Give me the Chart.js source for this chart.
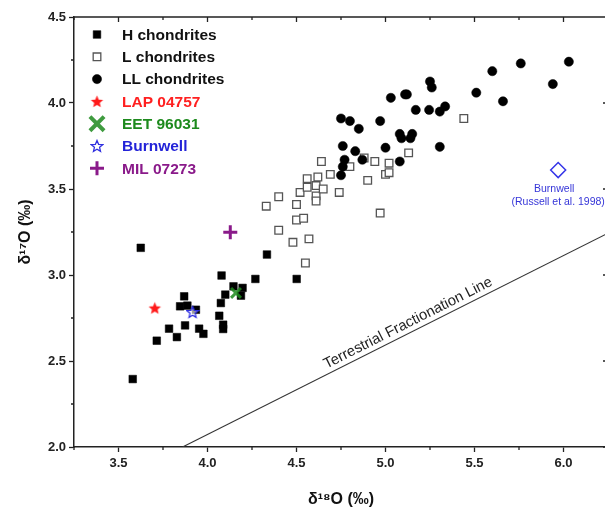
<!DOCTYPE html>
<html>
<head>
<meta charset="utf-8">
<script src="https://cdn.jsdelivr.net/npm/chart.js@4"></script>
<style>
  html, body { margin: 0; padding: 0; background: #fff; overflow: hidden; }
  #clip { width: 605px; height: 517px; overflow: hidden; position: relative; }
  #oxygenChart { display: block; }
</style>
</head>
<body>
<div id="clip"><canvas id="oxygenChart" width="612" height="517"></canvas></div>
<script>
// H chondrites
const hX = [3.58, 3.625, 3.715, 3.784, 3.828, 3.846, 3.869, 3.874, 3.887, 3.935, 3.953, 3.977, 4.066, 4.075, 4.079, 4.088, 4.088, 4.10, 4.146, 4.188, 4.197, 4.269, 4.334, 4.501];
const hY = [2.395, 3.158, 2.618, 2.688, 2.639, 2.818, 2.876, 2.707, 2.822, 2.798, 2.688, 2.658, 2.763, 2.837, 2.997, 2.711, 2.686, 2.886, 2.934, 2.88, 2.925, 2.977, 3.119, 2.977];

// L chondrites
const lX = [4.33, 4.40, 4.40, 4.48, 4.50, 4.50, 4.52, 4.54, 4.55, 4.56, 4.56, 4.57, 4.61, 4.61, 4.61, 4.62, 4.64, 4.65, 4.69, 4.74, 4.80, 4.88, 4.90, 4.94, 4.97, 5.00, 5.02, 5.02, 5.13, 5.44];
const lY = [3.40, 3.455, 3.26, 3.19, 3.41, 3.32, 3.48, 3.33, 3.07, 3.51, 3.56, 3.21, 3.46, 3.43, 3.52, 3.57, 3.66, 3.50, 3.585, 3.48, 3.63, 3.68, 3.55, 3.66, 3.36, 3.585, 3.65, 3.595, 3.71, 3.91];

// LL chondrites
const llX = [4.75, 4.80, 4.85, 4.97, 5.03, 5.11, 5.12, 5.17, 5.25, 5.26, 5.245, 5.305, 5.335, 5.08, 5.09, 5.14, 5.15, 4.76, 4.83, 5.00, 5.305, 4.77, 4.76, 4.75, 4.87, 5.08, 5.51, 5.60, 5.66, 5.76, 5.94, 6.03];
const llY = [3.91, 3.895, 3.85, 3.895, 4.03, 4.05, 4.05, 3.96, 4.125, 4.09, 3.96, 3.95, 3.98, 3.82, 3.795, 3.795, 3.82, 3.75, 3.72, 3.74, 3.745, 3.67, 3.63, 3.58, 3.67, 3.66, 4.06, 4.185, 4.01, 4.23, 4.11, 4.24];

// single samples
const lapX = [3.704], lapY = [2.808];
const eetX = [4.16], eetY = [2.896];
const burnX = [3.916], burnY = [2.785];
const milX = [4.128], milY = [3.249];
const russellX = [5.97], russellY = [3.61];

// terrestrial fractionation line ends
const tflX = [3.86, 6.25];
const tflY = [2.0, 3.243];

// axes
const xTicks = [3.5, 4.0, 4.5, 5.0, 5.5, 6.0];
const yTicks = [2.0, 2.5, 3.0, 3.5, 4.0, 4.5];
const xMinor = [3.25, 3.75, 4.25, 4.75, 5.25, 5.75, 6.25];
const yMinor = [2.25, 2.75, 3.25, 3.75, 4.25];

const pts = (xs, ys) => xs.map((x, i) => ({ x, y: ys[i] }));
const FONT = '"Liberation Sans", Arial, sans-serif';

function starCanvas(size, fill, stroke, lw) {
    const c = document.createElement('canvas');
    c.width = c.height = size;
    const g = c.getContext('2d');
    const cx = size / 2, cy = size / 2 + 0.5;
    const R = size / 2 - 1, r = R * 0.45;
    g.beginPath();
    for (let i = 0; i < 10; i++) {
        const a = -Math.PI / 2 + i * Math.PI / 5;
        const rad = i % 2 ? r : R;
        g.lineTo(cx + rad * Math.cos(a), cy + rad * Math.sin(a));
    }
    g.closePath();
    if (fill) { g.fillStyle = fill; g.fill(); }
    if (stroke) { g.strokeStyle = stroke; g.lineWidth = lw; g.stroke(); }
    return c;
}

const redStar = starCanvas(15, '#ff1a1a');
const blueStar = starCanvas(14, 'rgba(255,255,255,0.6)', '#3030e0', 1.3);

// legend + annotations, axes frame with minor / mirrored ticks
const decor = {
    id: 'decor',
    afterDraw(chart) {
        const { ctx, chartArea: a, scales: { x, y } } = chart;
        ctx.save();
        ctx.strokeStyle = '#222';
        ctx.lineWidth = 1.3;
        ctx.beginPath();
        ctx.moveTo(a.left, a.top); ctx.lineTo(a.right, a.top);
        ctx.moveTo(a.right, a.top); ctx.lineTo(a.right, a.bottom);
        // top / right mirrored ticks (inward)
        xTicks.forEach(v => { const p = x.getPixelForValue(v); ctx.moveTo(p, a.top); ctx.lineTo(p, a.top + 5); });
        xMinor.forEach(v => { const p = x.getPixelForValue(v); ctx.moveTo(p, a.top); ctx.lineTo(p, a.top + 3); });
        yTicks.forEach(v => { const p = y.getPixelForValue(v); ctx.moveTo(a.right, p); ctx.lineTo(a.right - 5, p); });
        yMinor.forEach(v => { const p = y.getPixelForValue(v); ctx.moveTo(a.right, p); ctx.lineTo(a.right - 3, p); });
        // bottom / left minor ticks (outward)
        xMinor.forEach(v => { const p = x.getPixelForValue(v); ctx.moveTo(p, a.bottom); ctx.lineTo(p, a.bottom + 3); });
        yMinor.forEach(v => { const p = y.getPixelForValue(v); ctx.moveTo(a.left, p); ctx.lineTo(a.left - 3, p); });
        ctx.stroke();

        // legend
        chart.data.datasets.forEach(ds => {
            if (ds.legendRow === undefined) return;
            const ly = a.top + 17.5 + ds.legendRow * 22.3;
            const lx = a.left + 23;
            ctx.fillStyle = ds.pointBackgroundColor;
            ctx.strokeStyle = ds.pointBorderColor;
            ctx.lineWidth = ds.legendBorder || ds.pointBorderWidth;
            Chart.helpers.drawPoint(ctx, {
                pointStyle: ds.pointStyle,
                radius: ds.legendRadius || ds.pointRadius,
                borderWidth: ds.legendBorder || ds.pointBorderWidth,
                rotation: 0
            }, lx, ly);
            ctx.fillStyle = ds.legendColor;
            ctx.font = 'bold 15.5px ' + FONT;
            ctx.textBaseline = 'middle';
            ctx.textAlign = 'left';
            ctx.fillText(ds.label, a.left + 48, ly + 1);
        });

        // Terrestrial Fractionation Line label
        const x0 = x.getPixelForValue(tflX[0]), y0 = y.getPixelForValue(tflY[0]);
        const x1 = x.getPixelForValue(tflX[1]), y1 = y.getPixelForValue(tflY[1]);
        const ang = Math.atan2(y1 - y0, x1 - x0);
        const t = 0.54;
        ctx.translate(x0 + (x1 - x0) * t, y0 + (y1 - y0) * t);
        ctx.rotate(ang);
        ctx.fillStyle = '#222';
        ctx.font = '14.8px ' + FONT;
        ctx.textAlign = 'center';
        ctx.textBaseline = 'bottom';
        ctx.fillText('Terrestrial Fractionation Line', 0, -2);
        ctx.setTransform(1, 0, 0, 1, 0, 0);

        // Burnwell (Russell et al. 1998) label
        const bx = x.getPixelForValue(russellX[0]), by = y.getPixelForValue(russellY[0]);
        ctx.fillStyle = '#3535d8';
        ctx.font = '10.5px ' + FONT;
        ctx.textAlign = 'center';
        ctx.textBaseline = 'middle';
        ctx.fillText('Burnwell', bx - 4, by + 19);
        ctx.fillText('(Russell et al. 1998)', bx, by + 32);
        ctx.restore();
    }
};

new Chart(document.getElementById('oxygenChart'), {
    type: 'scatter',
    data: {
        datasets: [
            {
                label: 'H chondrites', data: pts(hX, hY), legendRow: 0, legendColor: '#111', order: 3,
                pointStyle: 'rect', pointRadius: 5.4, pointBackgroundColor: '#000', pointBorderColor: '#000', pointBorderWidth: 0.5
            },
            {
                label: 'L chondrites', data: pts(lX, lY), legendRow: 1, legendColor: '#111', order: 2,
                pointStyle: 'rect', pointRadius: 5.4, pointBackgroundColor: '#fff', pointBorderColor: '#555', pointBorderWidth: 1.3
            },
            {
                label: 'LL chondrites', data: pts(llX, llY), legendRow: 2, legendColor: '#111', order: 1,
                pointStyle: 'circle', pointRadius: 4.6, pointBackgroundColor: '#000', pointBorderColor: '#000', pointBorderWidth: 0.5
            },
            {
                label: 'LAP 04757', data: pts(lapX, lapY), legendRow: 3, legendColor: '#ff2020', order: 0,
                pointStyle: redStar, pointRadius: 7, pointBackgroundColor: '#ff1a1a', pointBorderColor: '#ff1a1a', pointBorderWidth: 0
            },
            {
                label: 'EET 96031', data: pts(eetX, eetY), legendRow: 4, legendColor: '#1d8a1d', order: 0,
                pointStyle: 'crossRot', pointRadius: 7, pointBackgroundColor: '#1d8a1d', pointBorderColor: 'rgba(29,138,29,0.85)', pointBorderWidth: 3,
                legendRadius: 10, legendBorder: 4
            },
            {
                label: 'Burnwell', data: pts(burnX, burnY), legendRow: 5, legendColor: '#2323d8', order: 0,
                pointStyle: blueStar, pointRadius: 7, pointBackgroundColor: '#fff', pointBorderColor: '#3030e0', pointBorderWidth: 0
            },
            {
                label: 'MIL 07273', data: pts(milX, milY), legendRow: 6, legendColor: '#8a1a8a', order: 0,
                pointStyle: 'cross', pointRadius: 7, pointBackgroundColor: '#8a1a8a', pointBorderColor: '#8a1a8a', pointBorderWidth: 3
            },
            {
                label: 'Burnwell (Russell et al. 1998)', data: pts(russellX, russellY), order: 0,
                pointStyle: 'rectRot', pointRadius: 7.5, pointBackgroundColor: 'rgba(0,0,0,0)', pointBorderColor: '#3535e8', pointBorderWidth: 1.5
            },
            {
                type: 'line', label: 'Terrestrial Fractionation Line', data: pts(tflX, tflY), order: 4,
                borderColor: '#333', borderWidth: 1.1, pointRadius: 0, showLine: true, fill: false
            }
        ]
    },
    options: {
        responsive: false,
        animation: false,
        events: [],
        layout: { autoPadding: false, padding: { top: 17, right: 4, left: 0, bottom: 0 } },
        plugins: { legend: { display: false }, tooltip: { enabled: false } },
        scales: {
            x: {
                type: 'linear', min: 3.25, max: 6.25,
                afterBuildTicks: s => { s.ticks = xTicks.map(v => ({ value: v })); },
                afterFit: s => { s.height = 70; },
                border: { display: true, color: '#222', width: 1.5 },
                grid: { display: true, drawOnChartArea: false, drawTicks: true, tickLength: 5, tickColor: '#222', tickWidth: 1.3 },
                ticks: { padding: 4, color: '#222', font: { family: FONT, size: 13, weight: 'bold' }, callback: v => v.toFixed(1), maxRotation: 0 },
                title: { display: true, text: 'δ¹⁸O (‰)', color: '#111', font: { family: FONT, size: 16, weight: 'bold' }, padding: { top: 0, bottom: 8 } }
            },
            y: {
                type: 'linear', min: 2.0, max: 4.5,
                afterBuildTicks: s => { s.ticks = yTicks.map(v => ({ value: v })); },
                afterFit: s => { s.width = 74; },
                border: { display: true, color: '#222', width: 1.5 },
                grid: { display: true, drawOnChartArea: false, drawTicks: true, tickLength: 5, tickColor: '#222', tickWidth: 1.3 },
                ticks: { padding: 3, color: '#222', font: { family: FONT, size: 13, weight: 'bold' }, callback: v => v.toFixed(1) },
                title: { display: true, text: 'δ¹⁷O (‰)', color: '#111', font: { family: FONT, size: 16, weight: 'bold' }, padding: { top: 16, bottom: 0 } }
            }
        }
    },
    plugins: [decor]
});
</script>
</body>
</html>
